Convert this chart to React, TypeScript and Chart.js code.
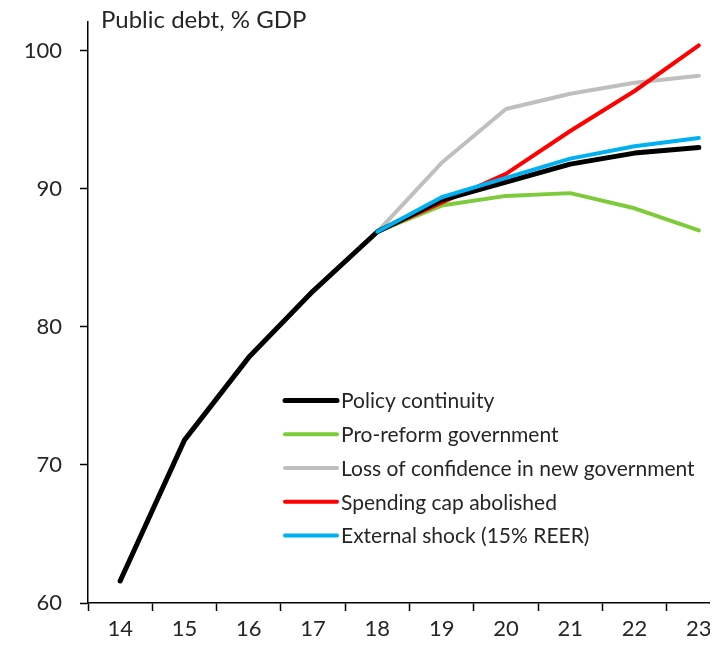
import React, { useEffect, useRef } from "react";
import { Chart, registerables } from "chart.js";

Chart.register(...registerables);

const years = ["14", "15", "16", "17", "18", "19", "20", "21", "22", "23"];
const policyContinuity = [61.6, 71.8, 77.8, 82.6, 86.9, 89.2, 90.5, 91.8, 92.6, 93.0];
const proReform = [null, null, null, null, 86.9, 88.8, 89.5, 89.7, 88.6, 87.0];
const lossOfConfidence = [null, null, null, null, 86.9, 91.9, 95.8, 96.9, 97.7, 98.2];
const spendingCap = [null, null, null, null, 86.9, 89.0, 91.1, 94.2, 97.1, 100.4];
const externalShock = [null, null, null, null, 86.9, 89.4, 90.8, 92.2, 93.1, 93.7];
const yTicks = [60, 70, 80, 90, 100];
const chartTitle = "Public debt, % GDP";

const FONT = "Lato, 'Open Sans', sans-serif";
const TEXT = "#262626";

const W = 725;
const H = 645;

const overlayPlugin = {
  id: "overlay",
  afterDraw(chart: any) {
    const { ctx, chartArea } = chart;
    ctx.save();
    ctx.fillStyle = TEXT;
    ctx.font = `24px ${FONT}`;
    ctx.textBaseline = "middle";
    ctx.textAlign = "left";
    ctx.fillText(chartTitle, chartArea.left + 13, 12);

    const lx = chartArea.left + 197;
    const ly = chartArea.top + 378.5;
    const step = 33.75;
    const legendOrder = [0, 1, 2, 3, 4];
    ctx.font = `21px ${FONT}`;
    legendOrder.forEach((idx, i) => {
      const ds = chart.data.datasets[idx];
      const y = ly + i * step;
      ctx.beginPath();
      ctx.strokeStyle = ds.borderColor;
      ctx.lineWidth = ds.borderWidth;
      ctx.lineCap = "round";
      ctx.moveTo(lx, y);
      ctx.lineTo(lx + 52, y);
      ctx.stroke();
      ctx.fillStyle = TEXT;
      ctx.fillText(ds.label, lx + 56, y + 1);
    });
    ctx.restore();
  },
};

export default function App() {
  const ref = useRef<HTMLCanvasElement>(null);
  useEffect(() => {
    if (!ref.current) return;
    const mk = (label: string, data: any[], color: string, width: number, order: number) => ({
      label,
      data,
      borderColor: color,
      backgroundColor: color,
      borderWidth: width,
      pointRadius: 0,
      tension: 0,
      fill: false,
      borderCapStyle: "round" as const,
      borderJoinStyle: "round" as const,
      order,
    });
    const chart = new Chart(ref.current, {
      type: "line",
      data: {
        labels: years,
        datasets: [
          mk("Policy continuity", policyContinuity, "#000000", 5, 1),
          mk("Pro-reform government", proReform, "#7DCB3A", 4, 4),
          mk("Loss of confidence in new government", lossOfConfidence, "#BFBFBF", 4, 3),
          mk("Spending cap abolished", spendingCap, "#FF0000", 4, 2),
          mk("External shock (15% REER)", externalShock, "#00B0F0", 4, 0),
        ],
      },
      options: {
        responsive: false,
        animation: false,
        layout: { padding: { top: 14, right: 2, left: 0, bottom: 0 } },
        plugins: {
          legend: { display: false },
          title: { display: false },
          tooltip: { enabled: false },
        },
        scales: {
          x: {
            type: "category",
            offset: true,
            grid: {
              offset: true,
              drawOnChartArea: false,
              drawTicks: true,
              tickLength: 8,
              tickColor: "#000000",
              tickWidth: 1.5,
            },
            border: { color: "#000000", width: 1.5 },
            ticks: {
              color: TEXT,
              font: { family: FONT, size: 22 },
              padding: 5,
              maxRotation: 0,
              autoSkip: false,
            },
            afterFit(scale: any) {
              scale.height = 50;
              scale.paddingTop = 0;
              scale.paddingBottom = 0;
            },
          },
          y: {
            min: 60,
            max: 102.1,
            afterBuildTicks(scale: any) {
              scale.ticks = yTicks.map((v) => ({ value: v }));
            },
            grid: {
              drawOnChartArea: false,
              drawTicks: true,
              tickLength: 8,
              tickColor: "#000000",
              tickWidth: 1.5,
            },
            border: { color: "#000000", width: 1.5 },
            ticks: {
              color: TEXT,
              font: { family: FONT, size: 22 },
              padding: 18,
            },
            afterFit(scale: any) {
              scale.width = 80;
              scale.paddingTop = 0;
              scale.paddingBottom = 0;
            },
          },
        },
      },
      plugins: [overlayPlugin],
    });
    return () => chart.destroy();
  }, []);
  return (
    <div style={{ width: 710, height: 645, overflow: "hidden" }}>
      <canvas ref={ref} width={W} height={H} style={{ display: "block" }} />
    </div>
  );
}
